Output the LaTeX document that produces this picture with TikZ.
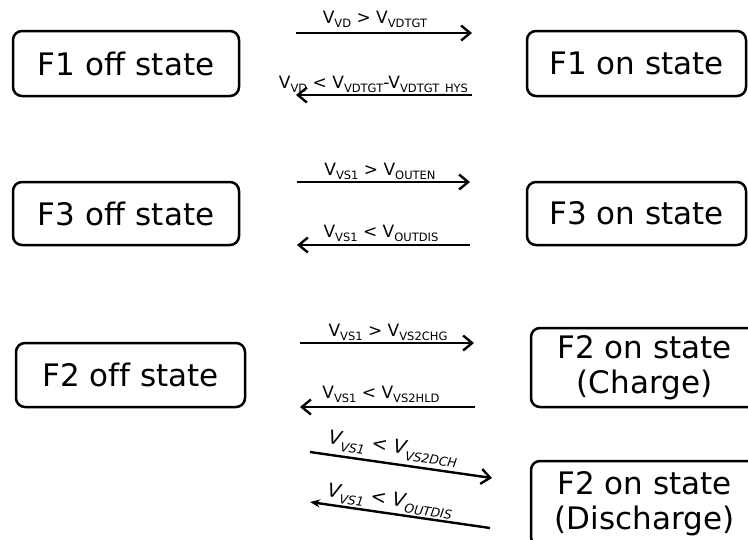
\documentclass[tikz,border=0pt]{standalone}
\usepackage{fontspec}
\setmainfont[Ligatures=NoCommon]{DejaVu Sans}
\usetikzlibrary{arrows.meta}
\newcommand\ssub[1]{\raisebox{-0.25em}{\fontsize{11.5}{11.5}\selectfont #1}}
\newcommand\isub[1]{\raisebox{-0.3em}{\fontsize{12.5}{12.5}\selectfont #1}}
\begin{document}
\begin{tikzpicture}[x=1pt,y=-1pt,
  state/.style={draw, line width=2.5pt, rounded corners=9pt, font=\fontsize{31}{35}\selectfont, align=center, inner sep=0pt},
  trans/.style={line width=2.4pt, -{Straight Barb[length=9pt,width=15pt]}},
  transf/.style={line width=2.4pt, -{Stealth[length=10pt,width=8pt]}},
  lbl/.style={font=\fontsize{17}{19}\selectfont, inner sep=0pt, anchor=base},
  slbl/.style={font=\fontsize{19}{21}\selectfont\itshape, inner sep=0pt, rotate=-8.1}]
\useasboundingbox (0,0) rectangle (748,539);
% states
\node[state, minimum width=226pt, minimum height=65pt] (f1off) at (126,63.5) {F1 off state};
\node[state, minimum width=219pt, minimum height=65pt] (f1on) at (636.5,63.5) {F1 on state};
\node[state, minimum width=226pt, minimum height=63pt] (f3off) at (126,213.5) {F3 off state};
\node[state, minimum width=219pt, minimum height=63pt] (f3on) at (636.5,213.5) {F3 on state};
\node[state, minimum width=229pt, minimum height=64pt] (f2off) at (130.5,375) {F2 off state};
\node[state, minimum width=227pt, minimum height=79pt] (f2chg) at (644.5,367.5) {F2 on state\\(Charge)};
\node[state, minimum width=227pt, minimum height=85pt] (f2dis) at (644.5,503.5) {F2 on state\\(Discharge)};
% arrow end points
\coordinate (a1s) at (296,33);  \coordinate (a1e) at (472,33);
\coordinate (a2s) at (472,95);  \coordinate (a2e) at (296,95);
\coordinate (a3s) at (297,182); \coordinate (a3e) at (470,182);
\coordinate (a4s) at (470,245); \coordinate (a4e) at (297,245);
\coordinate (a5s) at (300,343); \coordinate (a5e) at (474,343);
\coordinate (a6s) at (475,407); \coordinate (a6e) at (300,407);
\coordinate (a7s) at (310,452); \coordinate (a7e) at (492,478);
\coordinate (a8s) at (490,528); \coordinate (a8e) at (310,502);
\draw[trans] (a1s) -- (a1e);
\draw[trans] (a2s) -- (a2e);
\draw[trans] (a3s) -- (a3e);
\draw[trans] (a4s) -- (a4e);
\draw[trans] (a5s) -- (a5e);
\draw[trans] (a6s) -- (a6e);
\draw[trans] (a7s) -- (a7e);
\draw[transf] (a8s) -- (a8e);
% labels
\node[lbl] (l1) at (375,23) {V\ssub{VD} > V\ssub{VDTGT}};
\node[lbl] (l2) at (373.5,88) {V\ssub{VD} < V\ssub{VDTGT}-V\ssub{VDTGT\_HYS}};
\node[lbl] (l3) at (380,175) {V\ssub{VS1} > V\ssub{OUTEN}};
\node[lbl] (l4) at (381,237) {V\ssub{VS1} < V\ssub{OUTDIS}};
\node[lbl] (l5) at (388,336) {V\ssub{VS1} > V\ssub{VS2CHG}};
\node[lbl] (l6) at (381,398) {V\ssub{VS1} < V\ssub{VS2HLD}};
\node[slbl] (l7) at (393,449) {V\isub{VS1} < V\isub{VS2DCH}};
\node[slbl] (l8) at (390,501) {V\isub{VS1} < V\isub{OUTDIS}};
\end{tikzpicture}
\end{document}
